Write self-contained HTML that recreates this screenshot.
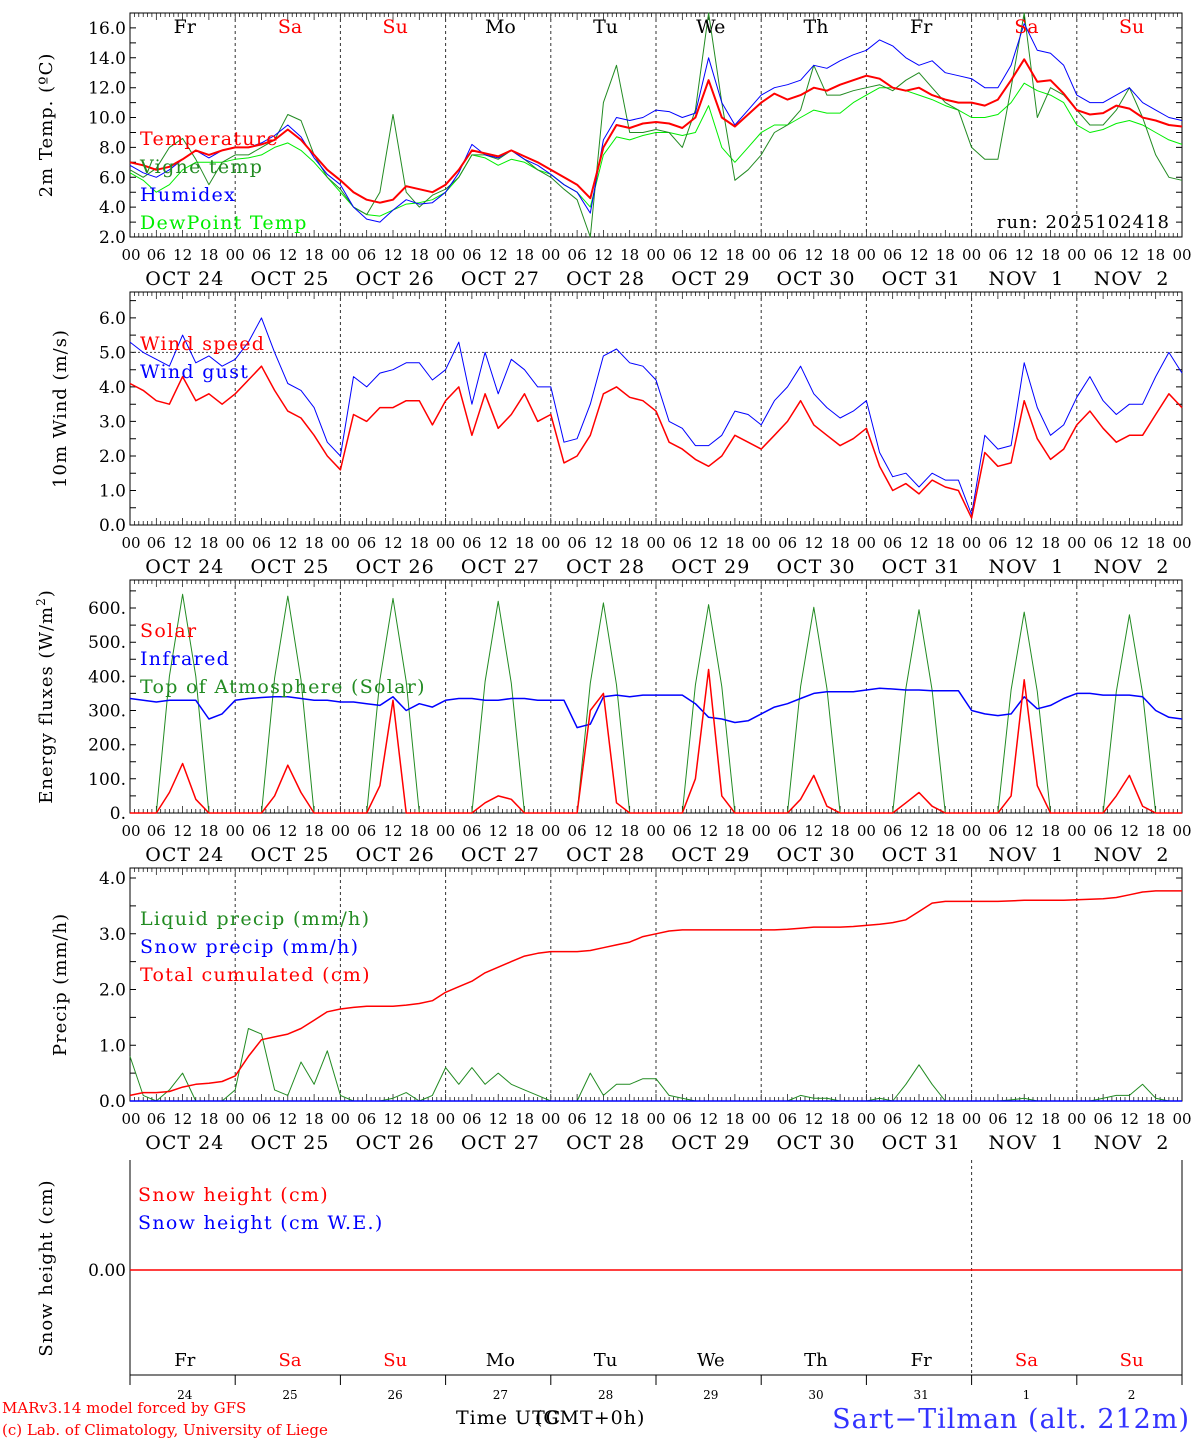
<!DOCTYPE html>
<html><head><meta charset="utf-8"><style>
html,body{margin:0;padding:0;background:#fff}
svg{display:block;font-family:"DejaVu Serif","Liberation Serif",serif}
</style></head><body>
<svg id="c" width="1194" height="1440" viewBox="0 0 1194 1440" xmlns="http://www.w3.org/2000/svg"></svg>
<script>
const dayNames=["Fr","Sa","Su","Mo","Tu","We","Th","Fr","Sa","Su"];
const dayColors=["#000","#f00","#f00","#000","#000","#000","#000","#000","#f00","#f00"];
const dateLabels=["OCT 24","OCT 25","OCT 26","OCT 27","OCT 28","OCT 29","OCT 30","OCT 31","NOV  1","NOV  2"];
const dateNums=["24","25","26","27","28","29","30","31","1","2"];
const temperature=[7.0,6.8,6.5,6.7,7.2,7.8,7.5,7.8, 8.0,8.0,8.2,8.5,9.2,8.5,7.5,6.5, 5.8,5.0,4.5,4.3,4.5,5.4,5.2,5.0, 5.5,6.5,7.8,7.6,7.4,7.8,7.4,7.0, 6.5,6.0,5.5,4.6,8.0,9.5,9.3,9.6, 9.7,9.6,9.3,10.0,12.5,10.0,9.4,10.2, 11.0,11.6,11.2,11.5,12.0,11.8,12.2,12.5, 12.8,12.6,12.0,11.8,12.0,11.5,11.2,11.0, 11.0,10.8,11.2,12.5,13.9,12.4,12.5,11.6, 10.5,10.2,10.3,10.8,10.6,10.0,9.8,9.5, 9.4];
const humidex=[6.8,6.3,6.0,6.5,7.2,7.8,7.3,7.8, 8.0,8.0,8.3,8.8,9.5,8.7,7.3,6.2, 5.5,4.0,3.2,3.0,3.8,4.5,4.2,4.3, 5.0,6.3,8.2,7.5,7.3,7.8,7.2,6.8, 6.2,5.5,5.0,3.6,8.5,10.0,9.8,10.0, 10.5,10.4,10.0,10.3,14.0,11.0,9.5,10.5, 11.5,12.0,12.2,12.5,13.5,13.3,13.8,14.2, 14.5,15.2,14.8,14.0,13.5,13.8,13.0,12.8, 12.6,12.0,12.0,13.5,16.3,14.5,14.3,13.5, 11.5,11.0,11.0,11.5,12.0,11.0,10.5,10.0, 9.8];
const vigneTemp=[6.5,6.0,6.6,8.0,8.6,7.2,5.5,7.0, 7.5,7.5,8.0,8.5,10.2,9.8,7.5,6.0, 5.2,4.0,3.5,5.0,10.2,5.0,4.0,4.8, 5.2,6.0,7.5,7.5,7.2,7.8,7.2,6.5, 6.0,5.2,4.5,2.0,11.0,13.5,9.0,9.0, 9.2,9.0,8.0,10.5,17.0,11.0,5.8,6.5, 7.5,9.0,9.5,10.5,13.5,11.5,11.5,11.8, 12.0,12.2,11.8,12.5,13.0,12.0,11.0,10.5, 8.0,7.2,7.2,12.0,17.0,10.0,12.0,11.5, 10.5,9.5,9.5,10.5,12.0,10.0,7.5,6.0, 5.8];
const dewPoint=[6.3,5.8,5.0,5.5,6.5,7.0,7.0,7.0, 7.2,7.3,7.5,8.0,8.3,7.8,7.0,6.0, 5.0,4.0,3.5,3.4,3.8,4.2,4.3,4.5, 5.0,6.0,7.5,7.3,6.8,7.2,7.0,6.5, 6.2,5.5,5.0,4.0,7.5,8.7,8.5,8.8, 9.0,9.0,8.8,9.0,10.8,8.0,7.0,8.0, 9.0,9.5,9.5,10.0,10.5,10.3,10.3,11.0, 11.5,12.0,12.0,11.8,11.5,11.2,10.8,10.5, 10.0,10.0,10.2,11.0,12.3,11.8,11.5,11.0, 9.5,9.0,9.2,9.6,9.8,9.5,9.0,8.5, 8.2];
const windSpeed=[4.1,3.9,3.6,3.5,4.3,3.6,3.8,3.5, 3.8,4.2,4.6,3.9,3.3,3.1,2.6,2.0, 1.6,3.2,3.0,3.4,3.4,3.6,3.6,2.9, 3.6,4.0,2.6,3.8,2.8,3.2,3.8,3.0, 3.2,1.8,2.0,2.6,3.8,4.0,3.7,3.6, 3.3,2.4,2.2,1.9,1.7,2.0,2.6,2.4, 2.2,2.6,3.0,3.6,2.9,2.6,2.3,2.5, 2.8,1.7,1.0,1.2,0.9,1.3,1.1,1.0, 0.2,2.1,1.7,1.8,3.6,2.5,1.9,2.2, 2.9,3.3,2.8,2.4,2.6,2.6,3.2,3.8, 3.4];
const windGust=[5.3,5.0,4.8,4.6,5.5,4.7,4.9,4.6, 4.8,5.3,6.0,5.0,4.1,3.9,3.4,2.4, 2.0,4.3,4.0,4.4,4.5,4.7,4.7,4.2, 4.5,5.3,3.5,5.0,3.8,4.8,4.5,4.0, 4.0,2.4,2.5,3.5,4.9,5.1,4.7,4.6, 4.2,3.0,2.8,2.3,2.3,2.6,3.3,3.2, 2.9,3.6,4.0,4.6,3.8,3.4,3.1,3.3, 3.6,2.1,1.4,1.5,1.1,1.5,1.3,1.3, 0.3,2.6,2.2,2.3,4.7,3.4,2.6,2.9, 3.7,4.3,3.6,3.2,3.5,3.5,4.3,5.0, 4.4];
const solar=[0,0,0,60,145,40,0,0, 0,0,0,50,140,60,0,0, 0,0,0,80,330,0,0,0, 0,0,0,30,50,40,0,0, 0,0,0,300,350,30,0,0, 0,0,0,100,420,50,0,0, 0,0,0,40,110,20,0,0, 0,0,0,30,60,20,0,0, 0,0,0,50,390,80,0,0, 0,0,0,50,110,20,0,0, 0];
const infrared=[335,330,325,330,330,330,275,290, 330,335,338,340,340,335,330,330, 325,325,320,315,340,300,320,310, 330,335,335,330,330,335,335,330, 330,330,250,260,340,345,340,345, 345,345,345,320,280,275,265,270, 290,310,320,335,350,355,355,355, 360,365,363,360,360,358,358,358, 300,290,285,290,340,305,315,335, 350,350,345,345,345,340,300,280, 275];
const toaSolar=[0,0,0,400,640,400,0,0, 0,0,0,395,635,390,0,0, 0,0,0,390,628,385,0,0, 0,0,0,385,620,380,0,0, 0,0,0,380,615,375,0,0, 0,0,0,375,610,370,0,0, 0,0,0,370,602,365,0,0, 0,0,0,365,595,360,0,0, 0,0,0,360,588,355,0,0, 0,0,0,355,580,350,0,0, 0];
const liquidPrecip=[0.8,0.1,0.0,0.2,0.5,0.0,0.0,0.0, 0.2,1.3,1.2,0.2,0.1,0.7,0.3,0.9, 0.1,0.0,0.0,0.0,0.05,0.15,0.0,0.1, 0.6,0.3,0.6,0.3,0.5,0.3,0.2,0.1, 0.0,0.0,0.0,0.5,0.1,0.3,0.3,0.4, 0.4,0.1,0.05,0.0,0.0,0.0,0.0,0.0, 0.0,0.0,0.0,0.1,0.05,0.05,0.0,0.0, 0.0,0.05,0.0,0.3,0.65,0.3,0.0,0.0, 0.0,0.0,0.0,0.02,0.05,0.0,0.0,0.0, 0.0,0.0,0.05,0.1,0.1,0.3,0.05,0.0, 0];
const snowPrecip=new Array(81).fill(0);
const totalCumulated=[0.1,0.15,0.15,0.17,0.25,0.3,0.32,0.35, 0.45,0.8,1.1,1.15,1.2,1.3,1.45,1.6, 1.65,1.68,1.7,1.7,1.7,1.72,1.75,1.8, 1.95,2.05,2.15,2.3,2.4,2.5,2.6,2.65, 2.68,2.68,2.68,2.7,2.75,2.8,2.85,2.95, 3.0,3.05,3.07,3.07,3.07,3.07,3.07,3.07, 3.07,3.07,3.08,3.1,3.12,3.12,3.12,3.13, 3.15,3.17,3.2,3.25,3.4,3.55,3.58,3.58, 3.58,3.58,3.58,3.59,3.6,3.6,3.6,3.6, 3.61,3.62,3.63,3.65,3.7,3.75,3.77,3.77, 3.77];
const snowHeight=new Array(81).fill(0);
const snowHeightWE=new Array(81).fill(0);

const NS="http://www.w3.org/2000/svg";
const svg=document.getElementById('c');
const X0=130,X1=1182,HOURS=240;
function xs(i){return X0+(i*3)/HOURS*(X1-X0);}
function xh(h){return X0+h/HOURS*(X1-X0);}
function el(tag,attrs,parent,text){const e=document.createElementNS(NS,tag);for(const k in attrs)e.setAttribute(k,attrs[k]);if(text!==undefined)e.textContent=text;(parent||svg).appendChild(e);return e;}

function panel(p){
  const g=el('g',{});
  
  
  const ys=v=>p.bot-(v-p.min)/(p.max-p.min)*(p.bot-p.top);
  const fr=el('rect',{x:X0,y:p.top,width:X1-X0,height:p.bot-p.top,fill:'none',stroke:'#000','stroke-width':1},g);
  
  let d='';
  for(let h=0;h<=HOURS;h+=1){const x=xh(h).toFixed(1);const L=(h%6==0)?7:4;d+=`M${x} ${p.top}v${L}M${x} ${p.bot}v${-L}`;}
  const cb=el('path',{d:d,stroke:'#000','stroke-width':0.7,fill:'none'},g);
  
  let dy='';
  for(let v=p.min;v<=p.max+1e-9;v+=p.minor){const y=ys(v).toFixed(1);dy+=`M${X0} ${y}h6M${X1} ${y}h-6`;}
  el('path',{d:dy,stroke:'#000','stroke-width':1},g);
  const yl=el('g',{'font-size':17,'text-anchor':'end'},g);
  
  for(const v of p.ticks){el('text',{x:X0-4,y:ys(v)+6},yl,v.toFixed(p.dec)+(p.dot?'.':''));}
  const dl=el('g',{stroke:'#333','stroke-width':1,'stroke-dasharray':'3,3'},g);
  
  for(const k of p.daylines){el('line',{x1:xh(k*24),x2:xh(k*24),y1:p.top,y2:p.bot},dl);}
  if(p.hline!==undefined){const hl=el('line',{x1:X0,x2:X1,y1:ys(p.hline),y2:ys(p.hline),stroke:'#444','stroke-dasharray':'2,2'},g);}
  const cy=(p.top+p.bot)/2;
  const yt=el('text',{x:p.tx,y:cy,'font-size':18,'text-anchor':'middle','letter-spacing':1,transform:`rotate(-90 ${p.tx} ${cy})`},g,'');
  yt.innerHTML=p.title;
  
  for(const s of p.series){
    const pts=s.data.map((v,i)=>xs(i).toFixed(1)+','+ys(Math.max(p.min,Math.min(p.max,v))).toFixed(1)).join(' ');
    const pl=el('polyline',{points:pts,fill:'none',stroke:s.color,'stroke-width':s.w||1,'stroke-linejoin':'round'},g);
    
    
  }
  const lg=el('g',{'font-size':19,'letter-spacing':1.3},g);
  
  p.legend.forEach((L,i)=>{const t=el('text',{x:p.lx||140,y:p.ly+i*28,fill:L[1]},lg,L[0]);});
  if(p.xlabels){
    const xl=el('g',{'font-size':15,'text-anchor':'middle'},g);
    
    for(let h=0;h<=HOURS;h+=6){const hh=String(h%24).padStart(2,'0');el('text',{x:xh(h)+(h==0?1:0),y:p.bot+23},xl,hh);}
    const dlb=el('g',{'font-size':19,'text-anchor':'middle','letter-spacing':1},g);
    
    dateLabels.forEach((s,k)=>{const t=el('text',{x:xh(k*24+12.5),y:p.bot+48},dlb,s);t.setAttribute('style','white-space:pre');});
  }
  return g;
}

panel({name:'temperature-panel',top:13,bot:237,min:2,max:17,minor:1,ticks:[2,4,6,8,10,12,14,16],dec:1,daylines:[1,2,3,4,5,6,7,8,9],tx:52,title:'2m Temp. (ºC)',
  series:[{id:'dewpoint-line',data:dewPoint,color:'#00ee00'},{id:'vigne-temp-line',data:vigneTemp,color:'#228b22'},{id:'humidex-line',data:humidex,color:'#0000ff'},{id:'temperature-line',data:temperature,color:'#ff0000',w:2}],
  legend:[['Temperature','#f00'],['Vigne temp','#228b22'],['Humidex','#00f'],['DewPoint Temp','#00ee00']],ly:145,xlabels:true});
const dn=el('g',{'font-size':19,'text-anchor':'middle'});

dayNames.forEach((n,k)=>el('text',{x:xh(k*24+12.5),y:33,fill:dayColors[k]},dn,n));
const run=el('text',{x:1170,y:228,'font-size':18,'text-anchor':'end','letter-spacing':1},svg,'run: 2025102418');


panel({name:'wind-panel',top:292,bot:525,min:0,max:6.75,minor:0.5,ticks:[0,1,2,3,4,5,6],dec:1,daylines:[1,2,3,4,5,6,7,8,9],hline:5,tx:66,title:'10m Wind (m/s)',
  series:[{id:'wind-gust-line',data:windGust,color:'#0000ff'},{id:'wind-speed-line',data:windSpeed,color:'#ff0000',w:1.5}],
  legend:[['Wind speed','#f00'],['Wind gust','#00f']],ly:350,xlabels:true});

panel({name:'energy-panel',top:580,bot:813,min:0,max:682,minor:50,ticks:[0,100,200,300,400,500,600],dec:0,dot:true,daylines:[1,2,3,4,5,6,7,8,9],tx:52,title:'Energy fluxes (W/m<tspan dy="-7" font-size="12">2</tspan><tspan dy="7">)</tspan>',
  series:[{id:'toa-solar-line',data:toaSolar,color:'#228b22'},{id:'infrared-line',data:infrared,color:'#0000ff',w:1.5},{id:'solar-line',data:solar,color:'#ff0000',w:1.5}],
  legend:[['Solar','#f00'],['Infrared','#00f'],['Top of Atmosphere (Solar)','#228b22']],ly:637,xlabels:true});

panel({name:'precip-panel',top:868,bot:1101,min:0,max:4.18,minor:0.5,ticks:[0,1,2,3,4],dec:1,daylines:[1,2,3,4,5,6,7,8,9],tx:66,title:'Precip (mm/h)',
  series:[{id:'liquid-precip-line',data:liquidPrecip,color:'#228b22'},{id:'snow-precip-line',data:snowPrecip,color:'#0000ff',w:1.5},{id:'total-cumulated-line',data:totalCumulated,color:'#ff0000',w:1.5}],
  legend:[['Liquid precip (mm/h)','#228b22'],['Snow precip (mm/h)','#00f'],['Total cumulated (cm)','#f00']],ly:925,xlabels:true});

(function(){
  const top=1160,bot=1375;
  const g=el('g',{});
  
  el('line',{x1:X0,x2:X0,y1:top,y2:bot,stroke:'#000'},g);
  el('line',{x1:X1,x2:X1,y1:top,y2:bot,stroke:'#000'},g);
  el('line',{x1:X0,x2:X1,y1:bot,y2:bot,stroke:'#000'},g);
  let d='';for(let k=0;k<=10;k++){d+=`M${xh(k*24)} ${bot}v10`;}
  el('path',{d:d,stroke:'#000'},g);
  el('line',{x1:xh(8*24),x2:xh(8*24),y1:top,y2:bot,stroke:'#333','stroke-dasharray':'3,3'},g);
  const y0=1270;
  el('path',{d:`M${X0} ${y0}h8M${X1} ${y0}h-8`,stroke:'#000'},g);
  el('text',{x:X0-4,y:y0+6,'font-size':17,'text-anchor':'end'},g,'0.00');
  const sh=el('polyline',{points:snowHeight.map((v,i)=>xs(i).toFixed(1)+','+(y0-v*50)).join(' '),stroke:'#f00',fill:'none','stroke-width':1.5},g);
  
  const cy=1268;
  const t=el('text',{x:52,y:cy,'font-size':18,'text-anchor':'middle','letter-spacing':1,transform:`rotate(-90 52 ${cy})`},g,'Snow height (cm)');
  
  el('text',{x:138,y:1201,'font-size':19,'letter-spacing':1.3,fill:'#f00'},g,'Snow height (cm)');
  el('text',{x:138,y:1229,'font-size':19,'letter-spacing':1.3,fill:'#00f'},g,'Snow height (cm W.E.)');
  dayNames.forEach((n,k)=>el('text',{x:xh(k*24+12.5),y:1366,'font-size':18,'text-anchor':'middle',fill:dayColors[k]},g,n));
  dateNums.forEach((n,k)=>el('text',{x:xh(k*24+12.5),y:1399,'font-size':12,'text-anchor':'middle'},g,n));
})();
const tu=el('text',{x:456,y:1424,'font-size':19,'letter-spacing':1},svg,'Time UTC');

el('text',{x:535,y:1424,'font-size':19,'letter-spacing':1},svg,'(GMT+0h)');
const cr=el('text',{x:2,y:1413,'font-size':15,fill:'#f00'},svg,'MARv3.14 model forced by GFS');

el('text',{x:2,y:1435,'font-size':15,fill:'#f00'},svg,'(c) Lab. of Climatology, University of Liege');
const st=el('text',{x:1190,y:1428,'font-size':27,fill:'#3333ff','text-anchor':'end','letter-spacing':1},svg,'Sart\u2212Tilman (alt. 212m)');

</script>
</body></html>
